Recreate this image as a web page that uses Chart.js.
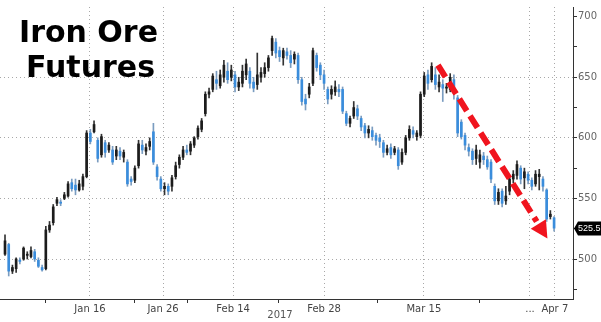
<!DOCTYPE html>
<html>
<head>
<meta charset="utf-8">
<script src="https://cdn.jsdelivr.net/npm/chart.js@4.4.1/dist/chart.umd.min.js"></script>
<style>
  html, body { margin: 0; padding: 0; background: #fff; }
  #wrap { width: 601px; height: 322px; }
</style>
</head>
<body>
<div id="wrap"><canvas id="chart" width="601" height="322"></canvas></div>
<script>
// candles, one per bar
const opens = [504,512,490,492,499,500,503,502,506,499,493,492,524,530,546,547,550,552,563,561,557,560,568,604,605,598,586,596,590,590,
  585,589,584,580,566,565,577,594,589,593,605,576,566,558,560,560,568,578,584,590,589,594,601,607,620,636,640,
  648,643,650,655,650,652,642,645,652,655,646,644,650,653,658,672,679,672,666,671,668,665,668,648,632,636,645,668,660,652,640,636,
  638,640,640,620,612,618,624,616,610,604,606,602,600,596,588,592,588,590,580,588,600,606,601,602,636,652,648,652,642,644,641,640,648,
  633,613,602,592,589,583,580,585,582,580,560,548,556,548,556,566,569,575,567,570,565,562,568,566,557,535,534];
const closes = [515,490,493,500,498,509,504,507,500,494,491,524,528,543,549,546,553,562,558,557,562,568,604,597,611,583,601,588,594,580,
  590,585,588,562,564,575,595,590,592,597,580,568,558,560,556,567,577,584,590,588,595,600,608,614,636,638,651,
  645,652,660,648,656,642,646,655,661,645,641,652,654,658,666,682,670,667,672,668,662,669,648,630,628,642,672,658,652,645,632,640,
  642,638,622,612,616,625,618,609,604,607,601,598,597,588,591,586,591,577,588,600,607,603,604,636,651,645,659,644,646,641,642,650,640,
  604,601,594,589,582,590,586,582,576,566,548,555,546,552,566,570,578,566,572,565,560,570,570,560,533,537,525.5];
const highs = [520,513,495,501,501,510,506,510,508,501,495,527,531,545,551,549,555,564,566,566,565,570,606,607,614,600,603,598,596,593,
  593,592,590,582,568,577,598,598,595,600,612,578,568,563,562,569,580,586,593,594,597,601,610,616,638,641,653,
  655,656,664,662,660,655,650,660,665,658,650,670,658,662,668,684,682,675,674,674,672,671,670,650,636,645,674,670,662,656,642,643,
  647,644,642,622,618,630,627,618,612,610,609,604,603,598,594,595,593,592,591,602,610,609,606,638,654,656,662,658,652,648,645,653,652,
  635,615,604,595,591,594,590,588,585,582,562,558,558,560,568,573,581,577,575,572,567,573,574,568,558,540,535];
const lows = [503,486,488,489,496,499,500,501,498,493,490,491,522,528,544,544,549,551,556,553,556,557,567,595,604,580,584,584,588,578,
  582,582,580,560,561,563,575,587,586,590,578,565,556,553,553,556,566,575,582,586,586,592,599,605,618,633,638,
  640,641,646,645,647,638,639,642,648,641,638,640,646,650,655,668,666,663,660,665,658,661,645,627,623,633,643,655,648,640,628,632,
  635,634,620,610,609,616,615,606,600,600,598,594,592,584,586,583,586,574,578,586,598,600,598,600,634,640,646,640,638,630,637,638,632,
  601,599,590,585,578,578,575,578,574,563,545,545,543,545,553,563,566,562,558,562,557,560,557,556,531,533,523];

const xTickPos = [22.9, 42.6, 61.5, 86, 112.9, 141.5, 148.2];
const xTickLabels = ['Jan 16', 'Jan 26', 'Feb 14', 'Feb 28', 'Mar 15', '...', 'Apr 7'];
const xMinorPos = [10.8, 35.0, 49.3, 73.6, 100.5, 128.0];
const yMajor = [500, 550, 600, 650, 700];
const yMinor = [475, 525, 575, 625, 675];
const yearLabel = '2017';
const titleLines = ['Iron Ore', 'Futures'];
const arrowFrom = { x: 116.7, y: 660 };
const arrowTo = { x: 146.2, y: 517 };

const UP = '#1c1c1c', DOWN = '#3a8ddc';
const idx = opens.map((_, i) => i);
const lastClose = closes[closes.length - 1];

const overlay = {
  id: 'overlay',
  afterDraw(chart) {
    const ctx = chart.ctx, xs = chart.scales.x, ys = chart.scales.y;
    ctx.save();
    // title
    ctx.fillStyle = '#000';
    ctx.font = 'bold 30px "DejaVu Sans"';
    ctx.textBaseline = 'alphabetic';
    ctx.fillText(titleLines[0], 19, 42);
    ctx.fillText(titleLines[1], 26, 77);
    // year under the axis
    ctx.font = '10px "DejaVu Sans"';
    ctx.fillStyle = '#555';
    ctx.textAlign = 'center';
    ctx.fillText(yearLabel, 280, 318);
    // red dashed arrow
    const x1 = xs.getPixelForValue(arrowFrom.x), y1 = ys.getPixelForValue(arrowFrom.y);
    const x2 = xs.getPixelForValue(arrowTo.x), y2 = ys.getPixelForValue(arrowTo.y);
    const ang = Math.atan2(y2 - y1, x2 - x1);
    const head = 17;
    const bx = x2 - head * Math.cos(ang), by = y2 - head * Math.sin(ang);
    ctx.strokeStyle = '#f0141e';
    ctx.lineWidth = 6;
    ctx.setLineDash([14, 6]);
    ctx.beginPath();
    ctx.moveTo(x1, y1);
    ctx.lineTo(bx - 3 * Math.cos(ang), by - 3 * Math.sin(ang));
    ctx.stroke();
    ctx.setLineDash([]);
    ctx.fillStyle = '#f0141e';
    ctx.beginPath();
    ctx.moveTo(x2, y2);
    ctx.lineTo(bx + 9 * Math.sin(ang), by - 9 * Math.cos(ang));
    ctx.lineTo(bx - 9 * Math.sin(ang), by + 9 * Math.cos(ang));
    ctx.closePath();
    ctx.fill();
    // last price tag
    const py = Math.round(ys.getPixelForValue(lastClose)) + 0.5;
    const px = chart.chartArea.right + 1;
    ctx.fillStyle = '#000';
    ctx.beginPath();
    ctx.moveTo(px, py);
    ctx.lineTo(px + 4, py - 7);
    ctx.lineTo(601, py - 7);
    ctx.lineTo(601, py + 7);
    ctx.lineTo(px + 4, py + 7);
    ctx.closePath();
    ctx.fill();
    ctx.fillStyle = '#fff';
    ctx.font = '9px "Liberation Sans"';
    ctx.textAlign = 'left';
    ctx.textBaseline = 'middle';
    ctx.fillText(String(lastClose), px + 4, py + 0.5);
    ctx.restore();
  }
};

new Chart(document.getElementById('chart'), {
  type: 'bar',
  data: {
    datasets: [
      {
        label: 'wick',
        data: idx.map(i => ({ x: i, y: [lows[i], highs[i]] })),
        backgroundColor: idx.map(i => closes[i] >= opens[i] ? '#333' : '#7a9cc0'),
        barThickness: 1,
        grouped: false,
        order: 2
      },
      {
        label: 'body',
        data: idx.map(i => ({ x: i, y: [opens[i], closes[i]] })),
        backgroundColor: idx.map(i => closes[i] >= opens[i] ? UP : DOWN),
        barThickness: 2,
        minBarLength: 1,
        grouped: false,
        order: 1
      }
    ]
  },
  options: {
    responsive: false,
    animation: false,
    devicePixelRatio: 1,
    layout: { padding: 0 },
    plugins: { legend: { display: false }, tooltip: { enabled: false } },
    scales: {
      x: {
        type: 'linear',
        min: -1.35,
        max: 153.1,
        offset: false,
        afterBuildTicks: s => {
          s.ticks = xTickPos.concat(xMinorPos).map(v => ({ value: v }));
        },
        afterFit: s => { s.height = 23; },
        ticks: {
          autoSkip: false,
          maxRotation: 0,
          padding: 0,
          color: '#444',
          font: { size: 10, family: 'DejaVu Sans' },
          callback: v => {
            const k = xTickPos.indexOf(v);
            return k >= 0 ? xTickLabels[k] : '';
          }
        },
        grid: {
          offset: false,
          color: c => c.tick && xTickPos.includes(c.tick.value) ? '#a8a8a8' : 'rgba(0,0,0,0)',
          tickColor: c => c.tick && xMinorPos.includes(c.tick.value) ? '#333' : 'rgba(0,0,0,0)',
          tickLength: 4
        },
        border: { color: '#333', dash: [1, 3] }
      },
      y: {
        position: 'right',
        min: 467,
        max: 708,
        afterBuildTicks: s => {
          s.ticks = yMajor.concat(yMinor).sort((a, b) => a - b).map(v => ({ value: v }));
        },
        afterFit: s => { s.width = 28; },
        ticks: {
          padding: 1,
          color: '#666',
          font: { size: 10, family: 'DejaVu Sans' },
          callback: v => yMajor.includes(v) ? String(v) : ''
        },
        grid: {
          color: c => c.tick && yMajor.includes(c.tick.value) && c.tick.value < 700 ? '#a8a8a8' : 'rgba(0,0,0,0)',
          tickColor: '#333',
          tickLength: 4
        },
        border: { color: '#333', dash: [1, 3] }
      }
    }
  },
  plugins: [overlay]
});
</script>
</body>
</html>
